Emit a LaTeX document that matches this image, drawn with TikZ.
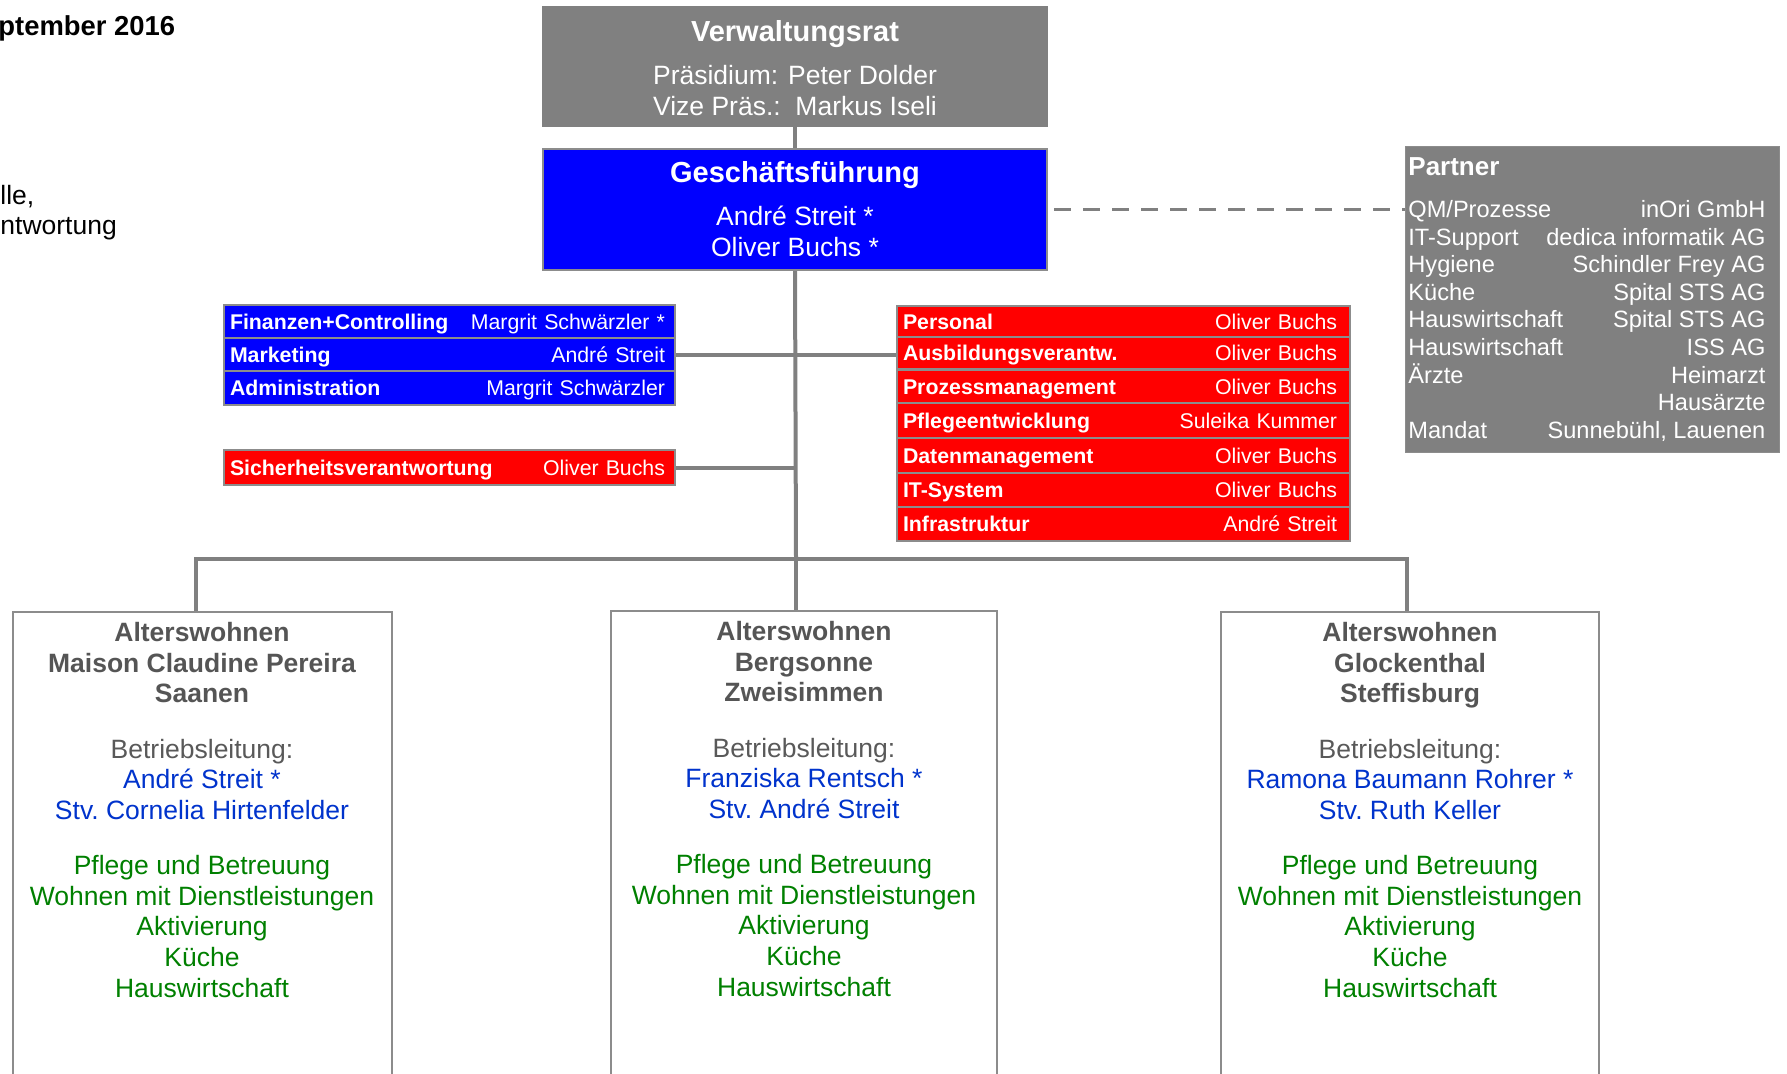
\documentclass[tikz,border=0pt]{standalone}
\usepackage{fontspec}
\setmainfont{Liberation Sans}
\usetikzlibrary{calc}
\definecolor{boxgray}{RGB}{128,128,128}
\definecolor{edgegray}{RGB}{140,140,140}
\definecolor{linegray}{RGB}{128,128,128}
\definecolor{hdrgray}{RGB}{85,85,85}
\definecolor{txtgray}{RGB}{89,89,89}
\definecolor{namblue}{RGB}{0,51,204}
\definecolor{grn}{RGB}{0,128,0}
\definecolor{pureblue}{RGB}{0,0,255}
\definecolor{purered}{RGB}{255,0,0}
\newcommand{\myfs}[2]{\fontsize{#1}{#2}\selectfont}
\newcommand{\prow}[2]{\hbox to 178.5pt{#1\hfill #2}}
\newcommand{\sitelines}[4]{%
\textcolor{hdrgray}{\bfseries Alterswohnen}\\
\textcolor{hdrgray}{\bfseries #1}\\
\textcolor{hdrgray}{\bfseries #2}\\[12.35pt]
\textcolor{txtgray}{Betriebsleitung:}\\
\textcolor{namblue}{#3}\\
\textcolor{namblue}{#4}\\[12.35pt]
\textcolor{grn}{Pflege und Betreuung}\\
\textcolor{grn}{Wohnen mit Dienstleistungen}\\
\textcolor{grn}{Aktivierung}\\
\textcolor{grn}{Küche}\\
\textcolor{grn}{Hauswirtschaft}}
\begin{document}
\begin{tikzpicture}[x=0.5pt,y=-0.5pt,
  conn/.style={draw=linegray, line width=2pt},
  headbox/.style={draw=edgegray, line width=1pt, minimum width=252pt, align=center, text=white, inner sep=0pt, font=\myfs{13.25}{15.5}},
  rowbox/.style={draw=edgegray, line width=1pt, text=white, inner xsep=4pt, inner ysep=0pt, font=\myfs{10.65}{12}, text height=8.6pt, text depth=1pt},
  bluerow/.style={rowbox, fill=pureblue, text width=217.5pt},
  redrow/.style={rowbox, fill=purered, text width=218.5pt},
  sitebox/.style={draw=edgegray, line width=1pt, fill=white, minimum height=260pt, anchor=north, inner sep=0pt},
  sitetext/.style={anchor=north, align=center, inner sep=0pt, font=\myfs{13.25}{15.3}},
  plaintext/.style={inner sep=0pt, anchor=base west, font=\myfs{13.25}{15.15}}]
\useasboundingbox (0,0) rectangle (1787,1073);
\clip (0,0) rectangle (1787,1073);

% top left fragments
\node[plaintext, font=\myfs{13.7}{16}\bfseries] (date) at (-2,35.5) {ptember 2016};
\node[plaintext] (leg1) at (0,204) {lle,};
\node[plaintext] (leg2) at (0,234) {ntwortung};

% board and management
\node[headbox, fill=boxgray, draw=boxgray, minimum height=59.5pt] (vr) at (795,66.5)
  {{\rule{0pt}{12.5pt}\myfs{14.5}{15.5}\bfseries Verwaltungsrat}\\[6pt]Präsidium: Peter Dolder\\Vize Präs.:\ \ Markus Iseli};
\node[headbox, fill=pureblue, minimum height=60.5pt] (gf) at (795,209.5)
  {{\myfs{14.5}{15.5}\bfseries Geschäftsführung}\\[6pt]André Streit *\\Oliver Buchs *};

% partner box
\node[draw=edgegray, line width=0.5pt, fill=boxgray, minimum width=187pt, minimum height=153pt, anchor=north west, inner sep=0pt] (partner) at (1405,146) {};
\node[anchor=north west, inner sep=0pt, text=white, font=\myfs{11.8}{13.75}] (partnertxt) at (1405,155.5)
  {\begin{tabular}{@{\hspace{1.5pt}}l@{}}
   {\myfs{13}{13.75}\bfseries Partner}\\[7.5pt]
   \prow{QM/Prozesse}{inOri GmbH}\\
   \prow{IT-Support}{dedica informatik AG}\\
   \prow{Hygiene}{Schindler Frey AG}\\
   \prow{Küche}{Spital STS AG}\\
   \prow{Hauswirtschaft}{Spital STS AG}\\
   \prow{Hauswirtschaft}{ISS AG}\\
   \prow{Ärzte}{Heimarzt}\\
   \prow{}{Hausärzte}\\
   \prow{Mandat}{Sunnebühl, Lauenen}
   \end{tabular}};

% blue staff functions
\node[bluerow, minimum height=16.5pt] (fin) at (449.5,321.5) {\noindent\hspace*{-1pt}\textbf{Finanzen+Controlling}\hfill Margrit Schwärzler *\hspace*{1pt}};
\node[bluerow, minimum height=16.5pt] (mkt) at (449.5,354.5) {\noindent\hspace*{-1pt}\textbf{Marketing}\hfill André Streit\hspace*{1pt}};
\node[bluerow, minimum height=17pt] (adm) at (449.5,388) {\noindent\hspace*{-1pt}\textbf{Administration}\hfill Margrit Schwärzler\hspace*{1pt}};
\node[rowbox, fill=purered, text width=217.5pt, minimum height=17.5pt] (sich) at (449.5,467.5) {\noindent\hspace*{-1pt}\textbf{Sicherheitsverantwortung}\hfill Oliver Buchs\hspace*{1pt}};

% red staff functions
\node[redrow, minimum height=15.5pt] (pers) at (1123.5,321.5) {\noindent\hspace*{-1pt}\textbf{Personal}\hfill Oliver Buchs\hspace*{2.5pt}};
\node[redrow, minimum height=16pt] (ausb) at (1123.5,353) {\noindent\hspace*{-1pt}\textbf{Ausbildungsverantw.}\hfill Oliver Buchs\hspace*{2.5pt}};
\node[redrow, minimum height=16.5pt] (proz) at (1123.5,386.5) {\noindent\hspace*{-1pt}\textbf{Prozessmanagement}\hfill Oliver Buchs\hspace*{2.5pt}};
\node[redrow, minimum height=17.5pt] (pfl) at (1123.5,420.5) {\noindent\hspace*{-1pt}\textbf{Pflegeentwicklung}\hfill Suleika Kummer\hspace*{2.5pt}};
\node[redrow, minimum height=17.5pt] (dat) at (1123.5,455.5) {\noindent\hspace*{-1pt}\textbf{Datenmanagement}\hfill Oliver Buchs\hspace*{2.5pt}};
\node[redrow, minimum height=17pt] (its) at (1123.5,490) {\noindent\hspace*{-1pt}\textbf{IT-System}\hfill Oliver Buchs\hspace*{2.5pt}};
\node[redrow, minimum height=17pt] (infra) at (1123.5,524) {\noindent\hspace*{-1pt}\textbf{Infrastruktur}\hfill André Streit\hspace*{2.5pt}};

% sites
\node[sitebox, minimum width=189.75pt] (s1) at (202.25,611) {};
\node[sitebox, minimum width=193pt] (s2) at (804,610) {};
\node[sitebox, minimum width=189pt] (s3) at (1410,611) {};
\node[sitetext] (s1t) at (202,622) {\sitelines{Maison Claudine Pereira}{Saanen}{André Streit *}{Stv.\ Cornelia Hirtenfelder}};
\node[sitetext] (s2t) at (804,621) {\sitelines{Bergsonne}{Zweisimmen}{Franziska Rentsch *}{Stv.\ André Streit}};
\node[sitetext] (s3t) at (1410,622) {\sitelines{Glockenthal}{Steffisburg}{Ramona Baumann Rohrer *}{Stv.\ Ruth Keller}};

% connectors
\coordinate (bus) at (796,559);
\coordinate (d1) at (196,559);
\coordinate (d3) at (1407,559);
\draw[conn] (vr.south) -- (gf.north);
\draw[conn] (gf.south) -- (bus);
\draw[conn] (d1 |- s1.north) -- (d1) -- (d3) -- (d3 |- s3.north);
\draw[conn] (bus) -- (bus |- s2.north);
\draw[conn] (mkt.east) -- (mkt.east -| ausb.west);
\draw[conn] (sich.east) -- (sich.east -| gf.south);
\draw[conn, line width=1.7pt, dash pattern=on 8.5pt off 6pt, shorten <=3pt] (gf.east) -- (gf.east -| partner.west);
\end{tikzpicture}
\end{document}
